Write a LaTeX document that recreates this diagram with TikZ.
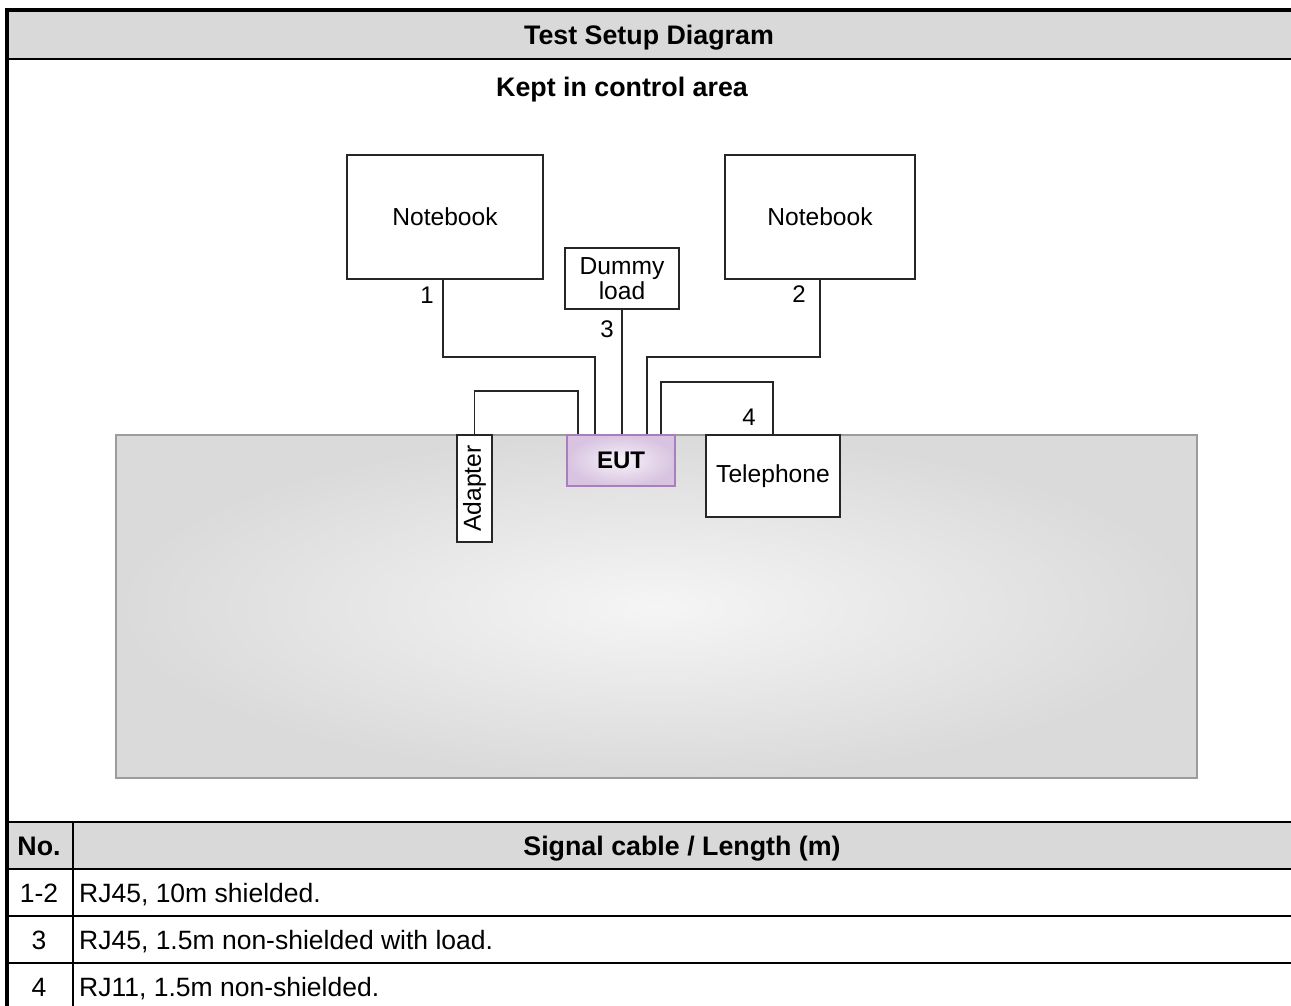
\documentclass[tikz,border=0pt]{standalone}
\usepackage{fontspec}
\setmainfont{Liberation Sans}
\usetikzlibrary{positioning}
\definecolor{SetupGray}{HTML}{D9D9D9}
\definecolor{BenchEdge}{HTML}{9C9C9C}
\definecolor{BenchOuter}{HTML}{DADADA}
\definecolor{BenchInner}{HTML}{F5F5F5}
\definecolor{EutEdge}{HTML}{A87EBC}
\definecolor{EutOuter}{HTML}{D8C4E0}
\definecolor{EutInner}{HTML}{F7F2F9}
\definecolor{CableLine}{HTML}{262626}
\tikzset{
  devbox/.style={draw=CableLine,line width=1.8pt,fill=white,align=center,inner sep=0pt,
    font=\fontsize{24.6}{25}\selectfont},
  eutbox/.style={draw=EutEdge,line width=1.6pt,inner color=EutInner,outer color=EutOuter,
    inner sep=0pt,font=\bfseries\fontsize{24}{25}\selectfont},
  bench/.style={draw=BenchEdge,line width=2.4pt,inner color=BenchInner,outer color=BenchOuter},
  cable/.style={draw=CableLine,line width=1.8pt},
  num/.style={inner sep=0pt,font=\fontsize{24}{25}\selectfont,text height=17pt,text depth=0pt},
  rule/.style={line width=2.2pt},
  headtext/.style={inner sep=0pt,font=\bfseries\fontsize{26.8}{30}\selectfont,text height=18.5pt,text depth=0pt},
  celltext/.style={inner sep=0pt,font=\fontsize{26.5}{30}\selectfont,text height=18.5pt,text depth=0pt}
}
\begin{document}
\begin{tikzpicture}[x=1pt,y=-1pt]
  \useasboundingbox (0,0) rectangle (1291,1006);
  \clip (0,0) rectangle (1291,1006);
  % frame and table
  \fill[SetupGray] (9,12) rectangle (1295,58);
  \fill[SetupGray] (9,823) rectangle (1295,868);
  \draw[line width=4pt] (7,1010) -- (7,10) -- (1295,10);
  \draw[rule,line width=2.6pt] (9,59) -- (1295,59);
  \foreach \y in {822,869,916,963}
    \draw[rule] (9,\y) -- (1295,\y);
  \draw[line width=2pt] (73,822) -- (73,1010);
  \node[headtext] (title) at (649,35) {Test Setup Diagram};
  \node[headtext] (area) at (622,87) {Kept in control area};
  \node[headtext] (nohead) at (39,846) {No.};
  \node[headtext] (cablehead) at (682,846) {Signal cable / Length (m)};
  \foreach \no/\txt/\y in {1-2/{RJ45, 10m shielded.}/893,3/{RJ45, 1.5m non-shielded with load.}/940,4/{RJ11, 1.5m non-shielded.}/987} {
    \node[celltext] (no\y) at (39,\y) {\no};
    \node[celltext,anchor=west] (txt\y) at (79,\y) {\txt};
  }
  % test setup
  \node[bench,minimum width=1081pt,minimum height=343pt] (table) at (656.5,606.5) {};
  \node[devbox,minimum width=196pt,minimum height=124pt] (nbleft) at (445,217) {Notebook};
  \node[devbox,minimum width=190pt,minimum height=124pt] (nbright) at (820,217) {Notebook};
  \node[devbox,minimum width=114pt,minimum height=61pt] (dummy) at (622,278.5) {Dummy\\load};
  \node[eutbox,minimum width=108pt,minimum height=51pt] (eut) at (621,460.5) {EUT};
  \node[devbox,rotate=90,minimum width=107pt,minimum height=35pt] (adapter) at (474.5,488.5) {Adapter};
  \node[devbox,minimum width=134pt,minimum height=82pt] (phone) at (773,476) {Telephone};
  \draw[cable] ([xshift=-2pt]nbleft.south) -- ++(0,77) -| ([xshift=29pt]eut.north west);
  \draw[cable] (nbright.south) -- ++(0,77) -| ([xshift=81pt]eut.north west);
  \draw[cable] (dummy.south) -- (dummy.south |- eut.north);
  \draw[cable] ([xshift=95pt]eut.north west) -- ++(0,-52) -| (phone.north);
  \draw[cable] (adapter.east) -- ++(0,-43) -| ([xshift=12pt]eut.north west);
  \node[num] (num1) at (427,295) {1};
  \node[num] (num2) at (799,294) {2};
  \node[num] (num3) at (607,329) {3};
  \node[num] (num4) at (749,417) {4};
\end{tikzpicture}
\end{document}
